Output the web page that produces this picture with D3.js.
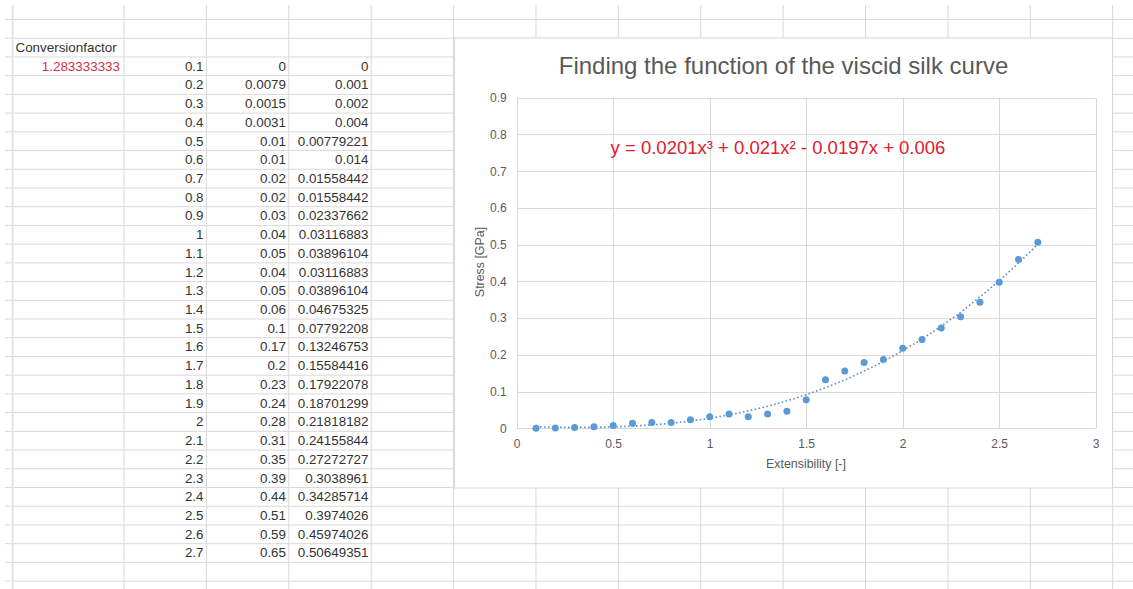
<!DOCTYPE html>
<html>
<head>
<meta charset="utf-8">
<script src="https://cdn.jsdelivr.net/npm/d3@7"></script>
<style>
  html, body { margin: 0; padding: 0; background: #ffffff; }
  svg { display: block; }
  text { font-family: "Liberation Sans", Arial, sans-serif; }
</style>
</head>
<body>
<svg id="sheet" width="1133" height="589"></svg>
<script>
// ---- worksheet data ----
const conversionLabel = "Conversionfactor";
const conversionFactor = 1.283333333;
const extensibility = [0.1, 0.2, 0.3, 0.4, 0.5, 0.6, 0.7, 0.8, 0.9, 1, 1.1, 1.2, 1.3, 1.4,
  1.5, 1.6, 1.7, 1.8, 1.9, 2, 2.1, 2.2, 2.3, 2.4, 2.5, 2.6, 2.7];
const stressRaw = [0, 0.0079, 0.0015, 0.0031, 0.01, 0.01, 0.02, 0.02, 0.03, 0.04, 0.05, 0.04,
  0.05, 0.06, 0.1, 0.17, 0.2, 0.23, 0.24, 0.28, 0.31, 0.35, 0.39, 0.44, 0.51, 0.59, 0.65];
const stressGPa = [0, 0.001, 0.002, 0.004, 0.00779221, 0.014, 0.01558442, 0.01558442,
  0.02337662, 0.03116883, 0.03896104, 0.03116883, 0.03896104, 0.04675325, 0.07792208,
  0.13246753, 0.15584416, 0.17922078, 0.18701299, 0.21818182, 0.24155844, 0.27272727,
  0.3038961, 0.34285714, 0.3974026, 0.45974026, 0.50649351];

// ---- chart settings ----
const chartTitle = "Finding the function of the viscid silk curve";
const xTitle = "Extensibility [-]";
const yTitle = "Stress [GPa]";
const xTicks = [0, 0.5, 1, 1.5, 2, 2.5, 3];
const yTicks = [0, 0.1, 0.2, 0.3, 0.4, 0.5, 0.6, 0.7, 0.8, 0.9];
// cubic trendline coefficients, highest power first: a3, a2, a1, a0
const trendCoef = [0.0201, 0.021, -0.0197, 0.006];

const svg = d3.select("#sheet");

// ---- spreadsheet grid ----
const rowTop = 19, rowH = 18.72;
const colEdges = [12.7].concat(d3.range(13).map(j => 124 + j * 82.39));
const rowEdges = d3.range(31).map(k => rowTop + k * rowH).filter(y => y <= 589);
const gridColor = "#d9d9d9";

svg.append("g").selectAll("line").data(rowEdges).join("line")
  .attr("x1", 5).attr("x2", 1133)
  .attr("y1", d => d + 0.5).attr("y2", d => d + 0.5)
  .attr("stroke", gridColor).attr("stroke-width", 1);
svg.append("g").selectAll("line").data(colEdges).join("line")
  .attr("x1", d => d).attr("x2", d => d)
  .attr("y1", 5).attr("y2", 589)
  .attr("stroke", (d, i) => i === 0 ? "#e3e3e3" : gridColor)
  .attr("stroke-width", (d, i) => i === 0 ? 2 : 1);

// ---- cell contents ----
const cellFont = 13.4, cellColor = "#333333";
const baseOf = r => rowTop + (r + 1) * rowH - 4.5;
const cells = svg.append("g").attr("font-size", cellFont);
cells.append("text").attr("x", 15.5).attr("y", baseOf(1))
  .attr("fill", cellColor).text(conversionLabel);
cells.append("text").attr("x", 120).attr("y", baseOf(2))
  .attr("text-anchor", "end").attr("fill", "#cf3440").text(String(conversionFactor));

const tableCols = [
  { values: extensibility, right: 203.5 },
  { values: stressRaw, right: 286 },
  { values: stressGPa, right: 368.5 }
];
tableCols.forEach(col => {
  cells.append("g").selectAll("text").data(col.values).join("text")
    .attr("x", col.right).attr("y", (d, i) => baseOf(i + 2))
    .attr("text-anchor", "end").attr("fill", cellColor)
    .text(d => String(d));
});

// ---- embedded chart ----
const box = { x: 454.5, y: 38, w: 658, h: 450 };
svg.append("rect").attr("x", box.x).attr("y", box.y)
  .attr("width", box.w).attr("height", box.h)
  .attr("fill", "#ffffff").attr("stroke", "#d9d9d9");

const x = d3.scaleLinear().domain([0, 3]).range([516.7, 1095.7]);
const y = d3.scaleLinear().domain([0, 0.9]).range([428.3, 97.7]);
const plotGrid = "#d9d9d9", axisText = "#595959";

const plot = svg.append("g");
plot.append("g").selectAll("line").data(yTicks).join("line")
  .attr("x1", x(0)).attr("x2", x(3))
  .attr("y1", d => Math.round(y(d)) + 0.5).attr("y2", d => Math.round(y(d)) + 0.5)
  .attr("stroke", plotGrid);
plot.append("g").selectAll("line").data(xTicks).join("line")
  .attr("x1", d => Math.round(x(d)) + 0.5).attr("x2", d => Math.round(x(d)) + 0.5)
  .attr("y1", y(0.9)).attr("y2", y(0))
  .attr("stroke", plotGrid);

const yAxis = plot.append("g").attr("transform", `translate(${x(0)},0)`)
  .call(d3.axisLeft(y).tickValues(yTicks).tickSize(0).tickPadding(10).tickFormat(d => String(d)));
const xAxis = plot.append("g").attr("transform", `translate(0,${y(0)})`)
  .call(d3.axisBottom(x).tickValues(xTicks).tickSize(0).tickPadding(11).tickFormat(d => String(d)));
[yAxis, xAxis].forEach(a => {
  a.select(".domain").remove();
  a.selectAll("text").attr("fill", axisText)
    .attr("font-size", 12).attr("font-family", "Liberation Sans, Arial, sans-serif");
});

// axis titles
svg.append("text").attr("x", 806).attr("y", 467.5).attr("text-anchor", "middle")
  .attr("font-size", 12.4).attr("fill", axisText).text(xTitle);
svg.append("text").attr("transform", "translate(483.5,262) rotate(-90)")
  .attr("text-anchor", "middle").attr("font-size", 12.4).attr("fill", axisText).text(yTitle);

// chart title
svg.append("text").attr("x", 783.5).attr("y", 73.5).attr("text-anchor", "middle")
  .attr("font-size", 24).attr("fill", axisText).text(chartTitle);

// trendline from the cubic coefficients
const poly = v => trendCoef.reduce((acc, c) => acc * v + c, 0);
const xMin = d3.min(extensibility), xMax = d3.max(extensibility);
const trendPts = d3.range(0, 201).map(i => xMin + (xMax - xMin) * i / 200);
plot.append("path")
  .datum(trendPts)
  .attr("d", d3.line().x(v => x(v)).y(v => y(poly(v))))
  .attr("fill", "none").attr("stroke", "#5b8ec9").attr("stroke-width", 1.6)
  .attr("stroke-dasharray", "1.6,2.4").attr("stroke-linecap", "butt");

// data markers
plot.append("g").selectAll("circle").data(extensibility).join("circle")
  .attr("cx", d => x(d)).attr("cy", (d, i) => y(stressGPa[i]))
  .attr("r", 3.5).attr("fill", "#5b9bd5");

// trendline equation label
const fmt = v => String(Math.abs(v));
const sign = v => v < 0 ? " - " : " + ";
const eq = svg.append("text").attr("x", 778).attr("y", 153.5).attr("text-anchor", "middle")
  .attr("font-size", 18.5).attr("fill", "#e0202c");
eq.append("tspan").text("y = " + fmt(trendCoef[0]) + "x³" + sign(trendCoef[1]) + fmt(trendCoef[1]) + "x²"
  + sign(trendCoef[2]) + fmt(trendCoef[2]) + "x" + sign(trendCoef[3]) + fmt(trendCoef[3]));
</script>
</body>
</html>
